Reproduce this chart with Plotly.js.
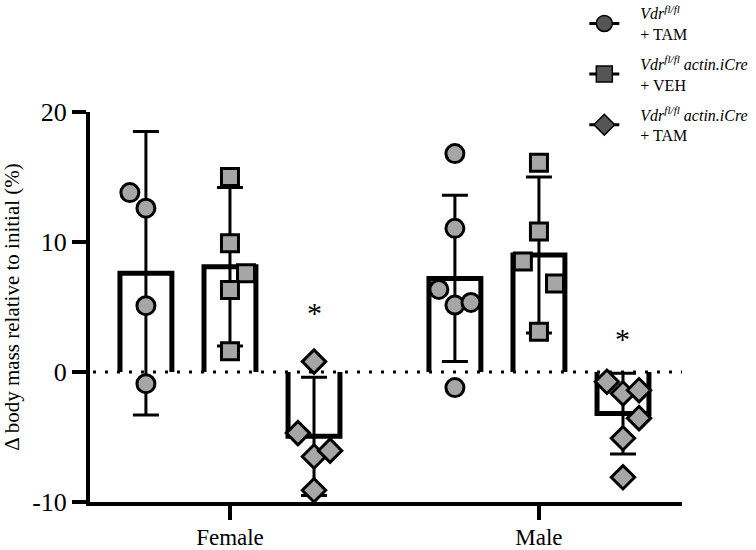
<!DOCTYPE html>
<html>
<head>
<meta charset="utf-8">
<script src="https://cdn.plot.ly/plotly-3.0.1.min.js"></script>
<style>html,body{margin:0;padding:0;background:#fff;}#chart{width:756px;height:550px;}</style>
</head>
<body>
<div id="chart"></div>
<script>
// ---- data ----
var categories = ['Female', 'Male'];
var seriesNames = [
  '<i>Vdr</i><sup><i>fl/fl</i></sup><br>+ TAM',
  '<i>Vdr</i><sup><i>fl/fl</i></sup><i> actin.iCre</i><br>+ VEH',
  '<i>Vdr</i><sup><i>fl/fl</i></sup><i> actin.iCre</i><br>+ TAM'
];
// group means (bar heights), per category [Female, Male]
var meanTamCtrl = [7.6, 7.2];
var meanVeh     = [8.1, 9.0];
var meanTamCre  = [-4.95, -3.2];
// standard deviations
var sdTamCtrl = [10.9, 6.4];
var sdVeh     = [6.1, 6.0];
var sdTamCre  = [4.55, 3.1];
// individual points
var ptsFemaleTamCtrl = [13.8, 12.6, 5.1, -0.9];
var ptsFemaleVeh     = [15.0, 9.9, 7.6, 6.3, 1.6];
var ptsFemaleTamCre  = [0.8, -4.7, -6.5, -6.05, -9.1];
var ptsMaleTamCtrl   = [16.8, 11.05, 6.35, 5.15, 5.35, -1.2];
var ptsMaleVeh       = [16.1, 10.8, 8.5, 6.8, 3.1];
var ptsMaleTamCre    = [-0.75, -1.65, -1.4, -3.55, -5.1, -8.1];
// horizontal jitter of points (steps left/right of the bar centre)
var jitFemaleTamCtrl = [-1, 0, 0, 0];
var jitFemaleVeh     = [0, 0, 1, 0, 0];
var jitFemaleTamCre  = [0, -1, 0, 1, 0];
var jitMaleTamCtrl   = [0, 0, -1, 0, 1, 0];
var jitMaleVeh       = [0, 0, -1, 1, 0];
var jitMaleTamCre    = [-1, 0, 1, 1, 0, 0];
var yTickVals = [-10, 0, 10, 20];
var yTickText = ['-10', '0', '10', '20'];
var starY = [4.6, 2.6];

// ---- drawing ----
var means = [meanTamCtrl, meanVeh, meanTamCre];
var sds = [sdTamCtrl, sdVeh, sdTamCre];
var pts = [[ptsFemaleTamCtrl, ptsMaleTamCtrl], [ptsFemaleVeh, ptsMaleVeh], [ptsFemaleTamCre, ptsMaleTamCre]];
var jits = [[jitFemaleTamCtrl, jitMaleTamCtrl], [jitFemaleVeh, jitMaleVeh], [jitFemaleTamCre, jitMaleTamCre]];
var symbols = ['circle', 'square', 'diamond'];
var sizes = [18, 17, 18];
var offsets = [-0.272, 0, 0.272];
var halfW = 0.084;
var jitStep = 0.052;
var FONT = 'Liberation Serif, Times New Roman, serif';
var PAD = '\u00A0\u00A0\u00A0\u00A0';

var traces = [];
// bars (open at baseline)
for (var s = 0; s < 3; s++) {
  var bx = [], by = [];
  for (var i = 0; i < categories.length; i++) {
    var c = i + offsets[s], m = means[s][i];
    bx.push(c - halfW, c - halfW, c + halfW, c + halfW, null);
    by.push(0, m, m, 0, null);
  }
  traces.push({type: 'scatter', mode: 'lines', x: bx, y: by, showlegend: false, hoverinfo: 'skip',
    line: {color: '#000', width: 5}, cliponaxis: false});
}
// error bars
for (var s = 0; s < 3; s++) {
  var ex = [], ey = [], ee = [];
  for (var i = 0; i < categories.length; i++) {
    ex.push(i + offsets[s]); ey.push(means[s][i]); ee.push(sds[s][i]);
  }
  traces.push({type: 'scatter', mode: 'markers', x: ex, y: ey, showlegend: false, hoverinfo: 'skip',
    marker: {size: 1, color: 'rgba(0,0,0,0)'}, cliponaxis: false,
    error_y: {type: 'data', array: ee, visible: true, color: '#000', thickness: 3, width: 13}});
}
// points
for (var s = 0; s < 3; s++) {
  var px = [], py = [];
  for (var i = 0; i < categories.length; i++) {
    for (var k = 0; k < pts[s][i].length; k++) {
      px.push(i + offsets[s] + jits[s][i][k] * jitStep);
      py.push(pts[s][i][k]);
    }
  }
  traces.push({type: 'scatter', mode: 'markers', x: px, y: py, showlegend: false, cliponaxis: false,
    marker: {symbol: symbols[s], size: sizes[s], color: '#A6A6A6', line: {color: '#000', width: 3}}});
}
// legend entries
for (var s = 0; s < 3; s++) {
  traces.push({type: 'scatter', mode: 'lines+markers', x: [null], y: [null],
    name: PAD + seriesNames[s].replace('<br>', '<br>' + PAD),
    marker: {symbol: symbols[s], size: 16, color: '#555555', line: {color: '#000', width: 1.5}},
    line: {color: '#000', width: 3}, legendgroup: 'g' + s});
}

var layout = {
  width: 756, height: 550,
  margin: {l: 90, r: 74, t: 112, b: 48, pad: 0, autoexpand: false},
  paper_bgcolor: '#fff', plot_bgcolor: '#fff',
  font: {family: FONT, color: '#000'},
  showlegend: true,
  legend: {x: 0.835, y: 1.297, xanchor: 'left', yanchor: 'top', font: {family: FONT, size: 16, color: '#000'},
    itemwidth: 30, tracegroupgap: 6, traceorder: 'grouped', bgcolor: 'rgba(0,0,0,0)'},
  xaxis: {range: [-0.453, 1.463], tickvals: [0, 1], ticktext: categories, showline: true, linewidth: 4,
    linecolor: '#000', ticks: 'outside', ticklen: 14, tickwidth: 4, tickcolor: '#000', showgrid: false,
    zeroline: false, tickfont: {family: FONT, size: 23, color: '#000'}, ticklabelstandoff: -3, fixedrange: true},
  yaxis: {range: [-10, 20], tickvals: yTickVals, ticktext: yTickText, showline: true, linewidth: 4,
    linecolor: '#000', ticks: 'outside', ticklen: 14, tickwidth: 4, tickcolor: '#000', showgrid: false,
    zeroline: false, tickfont: {family: FONT, size: 26, color: '#000'},
    title: {text: 'Δ body mass relative to initial (%)', font: {family: FONT, size: 21, color: '#000'}, standoff: 12}},
  shapes: [{type: 'line', xref: 'paper', x0: 0.005, x1: 1, yref: 'y', y0: 0, y1: 0, layer: 'below',
    line: {color: '#000', width: 3, dash: '3px,9px'}}],
  annotations: [0, 1].map(function (i) {
    return {x: i + offsets[2], y: starY[i], xref: 'x', yref: 'y', text: '*', showarrow: false,
      font: {family: FONT, size: 30, color: '#000'}};
  })
};

Plotly.newPlot('chart', traces, layout, {displayModeBar: false, staticPlot: true});
</script>
</body>
</html>
